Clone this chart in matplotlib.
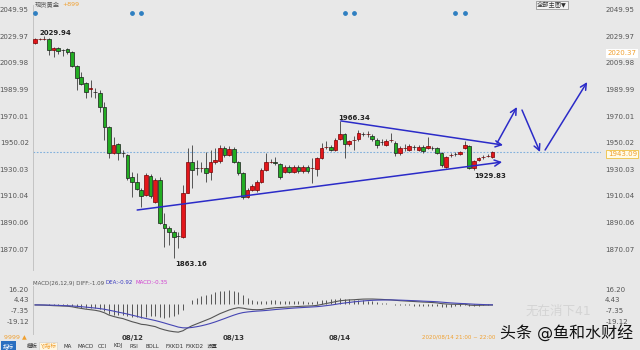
import matplotlib.pyplot as plt
import matplotlib.transforms as mtransforms

plt.rcParams['font.family'] = ['DejaVu Sans', 'Noto Sans CJK SC']

# hourly gold candles (price)
opens = [2024.75, 2027.5, 2027.6, 2027.7, 2019.5, 2021.0, 2019.5, 2020.25, 2018.0, 2007.5,
         1999.25, 1994.75, 1990.25, 1988.2, 1987.25, 1976.75, 1961.75, 1942.25, 1949.0, 1942.5,
         1940.75, 1924.25, 1920.5, 1914.5, 1910.75, 1925.0, 1905.5, 1922.0, 1889.0, 1886.0,
         1883.0, 1880.0, 1879.25, 1912.25, 1935.5, 1931.1, 1931.0, 1931.0, 1928.0, 1935.5,
         1936.25, 1946.0, 1940.75, 1945.25, 1935.5, 1927.25, 1909.25, 1914.5, 1914.5, 1920.5,
         1929.5, 1935.5, 1935.0, 1934.0, 1928.0, 1931.75, 1928.0, 1931.75, 1928.75, 1931.75,
         1931.0, 1930.25, 1938.5, 1946.75, 1946.75, 1944.5, 1952.75, 1956.5, 1949.0, 1952.0,
         1952.75, 1956.5, 1956.4, 1955.0, 1952.0, 1950.5, 1948.25, 1952.0, 1949.75, 1942.25,
         1946.0, 1944.5, 1946.5, 1944.5, 1946.75, 1946.0, 1946.0, 1946.0, 1942.25, 1931.75,
         1940.75, 1941.5, 1941.5, 1946.0, 1947.5, 1931.0, 1937.0, 1939.25, 1940.0, 1939.25]
highs = [2028.5, 2028.2, 2029.94, 2028.5, 2021.75, 2021.75, 2020.25, 2021.0, 2018.75, 2008.25,
         2003.0, 1995.5, 1997.0, 1991.0, 1989.5, 1980.5, 1962.5, 1954.25, 1949.75, 1944.5,
         1941.5, 1928.0, 1927.25, 1916.0, 1927.25, 1926.5, 1923.5, 1924.25, 1897.25, 1887.5,
         1884.5, 1883.0, 1918.25, 1946.0, 1948.25, 1937.0, 1935.5, 1943.0, 1944.5, 1946.0,
         1948.25, 1947.5, 1947.5, 1946.75, 1936.25, 1928.0, 1916.0, 1919.0, 1922.0, 1931.0,
         1942.25, 1937.75, 1939.25, 1935.0, 1933.0, 1933.0, 1933.0, 1933.0, 1933.0, 1933.0,
         1938.5, 1939.5, 1949.75, 1951.25, 1948.0, 1953.5, 1966.34, 1957.25, 1952.0, 1955.0,
         1959.5, 1958.0, 1958.5, 1956.5, 1953.5, 1953.0, 1953.0, 1957.25, 1951.0, 1947.5,
         1949.0, 1949.0, 1948.5, 1948.5, 1948.0, 1954.25, 1947.5, 1947.0, 1943.0, 1940.0,
         1942.5, 1943.0, 1944.0, 1951.25, 1948.25, 1937.0, 1939.5, 1941.0, 1941.5, 1944.0]
lows = [2024.0, 2027.0, 2027.0, 2015.75, 2014.25, 2016.5, 2015.0, 2016.5, 2006.75, 1989.5,
        1993.25, 1983.5, 1984.25, 1983.5, 1973.0, 1952.0, 1938.5, 1941.5, 1937.0, 1939.25,
        1922.0, 1909.25, 1914.5, 1901.75, 1910.0, 1908.5, 1904.75, 1889.0, 1871.75, 1873.25,
        1863.16, 1871.0, 1878.5, 1912.25, 1916.0, 1925.75, 1928.0, 1920.5, 1922.0, 1934.0,
        1934.75, 1939.25, 1940.0, 1934.75, 1925.75, 1907.75, 1908.5, 1913.75, 1913.0, 1919.75,
        1928.75, 1934.5, 1933.5, 1922.75, 1927.0, 1927.0, 1927.0, 1927.5, 1927.5, 1927.5,
        1919.75, 1925.0, 1937.5, 1945.0, 1943.5, 1943.5, 1952.0, 1938.5, 1947.5, 1944.5,
        1951.5, 1955.0, 1954.0, 1951.5, 1946.0, 1948.0, 1947.5, 1950.5, 1940.0, 1941.0,
        1944.0, 1943.5, 1944.5, 1943.5, 1942.5, 1945.0, 1944.5, 1941.5, 1931.75, 1931.0,
        1939.5, 1940.0, 1940.5, 1945.0, 1930.5, 1929.83, 1936.0, 1938.0, 1939.0, 1938.5]
closes = [2027.75, 2027.6, 2027.9, 2019.5, 2021.0, 2018.75, 2019.3, 2018.0, 2007.5, 1998.5,
          1994.0, 1988.0, 1990.75, 1988.0, 1976.75, 1961.75, 1942.25, 1948.25, 1942.25, 1942.25,
          1923.5, 1920.5, 1915.25, 1910.0, 1925.75, 1910.0, 1922.0, 1889.75, 1886.0, 1883.0,
          1879.25, 1879.9, 1912.25, 1935.5, 1929.5, 1931.0, 1931.2, 1927.25, 1935.5, 1937.0,
          1946.0, 1940.75, 1945.25, 1935.5, 1927.25, 1909.25, 1914.5, 1917.5, 1920.5, 1929.5,
          1935.5, 1935.6, 1934.8, 1924.25, 1931.75, 1928.0, 1931.75, 1928.75, 1931.75, 1928.75,
          1931.1, 1938.5, 1946.0, 1946.8, 1944.5, 1952.0, 1956.5, 1949.0, 1951.25, 1952.1,
          1957.25, 1956.4, 1956.5, 1952.75, 1948.25, 1950.4, 1951.25, 1952.1, 1942.25, 1946.0,
          1946.1, 1947.5, 1946.4, 1946.75, 1943.75, 1947.5, 1945.9, 1942.25, 1933.25, 1939.25,
          1940.9, 1941.4, 1943.0, 1948.25, 1931.0, 1936.25, 1938.5, 1939.3, 1940.1, 1943.09]

# MACD(26,12,9) panel
diff = [-1.0, -1.1, -1.2, -1.5, -1.8, -2.0, -2.2, -2.4, -3.0, -4.0,
        -4.8, -5.6, -6.2, -6.8, -7.8, -9.5, -12.0, -13.5, -14.8, -15.8,
        -17.5, -19.2, -20.5, -22.0, -22.5, -23.5, -24.5, -26.5, -28.0, -29.2,
        -30.0, -30.5, -29.0, -26.0, -23.5, -21.5, -19.5, -17.5, -15.5, -13.0,
        -10.5, -8.5, -6.5, -5.0, -4.0, -4.5, -5.5, -6.0, -6.2, -6.0,
        -5.2, -4.6, -4.0, -3.8, -3.5, -3.2, -3.0, -2.7, -2.4, -2.2,
        -2.0, -1.5, -0.5, 0.5, 1.5, 2.5, 3.5, 4.0, 4.4, 4.6,
        5.0, 5.3, 5.4, 5.4, 5.2, 5.0, 4.7, 4.5, 4.0, 3.6,
        3.3, 3.0, 2.7, 2.4, 2.1, 1.9, 1.6, 1.2, 0.4, 0.0,
        -0.2, -0.3, -0.4, -0.2, -1.2, -1.5, -1.4, -1.3, -1.2, -1.09]
dea = [-1.0, -1.0, -1.1, -1.2, -1.3, -1.5, -1.7, -1.9, -2.1, -2.5,
       -2.9, -3.4, -3.9, -4.4, -5.0, -5.7, -6.7, -7.7, -8.8, -9.8,
       -10.9, -12.1, -13.3, -14.6, -15.7, -16.8, -17.9, -19.2, -20.6, -22.1,
       -23.5, -25.0, -25.8, -25.9, -25.4, -24.6, -23.6, -22.4, -21.0, -19.4,
       -17.6, -15.8, -13.9, -12.1, -10.5, -9.3, -8.6, -8.1, -7.7, -7.4,
       -7.0, -6.5, -6.0, -5.6, -5.2, -4.8, -4.4, -4.1, -3.8, -3.5,
       -3.2, -2.9, -2.4, -1.8, -1.2, -0.4, 0.4, 1.1, 1.7, 2.3,
       2.8, 3.3, 3.7, 4.0, 4.2, 4.3, 4.4, 4.4, 4.3, 4.2,
       4.0, 3.8, 3.6, 3.4, 3.1, 2.9, 2.7, 2.4, 2.0, 1.6,
       1.2, 0.9, 0.6, 0.4, 0.1, -0.2, -0.4, -0.6, -0.8, -0.92]
macd_hist = [-0.2, -0.3, -0.4, -0.6, -1.0, -1.0, -1.0, -1.0, -1.8, -3.0,
             -3.8, -4.4, -4.6, -4.8, -5.6, -7.6, -10.6, -11.6, -12.0, -12.0,
             -13.2, -14.2, -14.4, -14.8, -13.6, -13.4, -13.2, -14.6, -14.8, -14.2,
             -13.0, -11.0, -6.4, -0.2, 3.8, 6.2, 8.2, 9.8, 11.0, 12.8,
             14.2, 14.6, 14.8, 14.2, 13.0, 9.6, 6.2, 4.2, 3.0, 2.8,
             3.6, 3.8, 4.0, 3.6, 3.4, 3.2, 2.8, 2.8, 2.8, 2.6,
             2.4, 2.8, 3.8, 4.6, 5.4, 5.8, 6.2, 5.8, 5.4, 4.6,
             4.4, 4.0, 3.4, 2.8, 2.0, 1.4, 0.6, 0.2, -0.6, -1.2,
             -1.4, -1.6, -1.8, -2.0, -2.0, -2.0, -2.2, -2.4, -3.2, -3.2,
             -2.8, -2.4, -2.0, -1.2, -2.6, -2.6, -2.0, -1.4, -0.8, -0.35]

price_ticks = [2049.95, 2029.97, 2009.98, 1989.99, 1970.01, 1950.02, 1930.03, 1910.04, 1890.06, 1870.07]
macd_ticks = [16.20, 4.43, -7.35, -19.12]
day_pos = [21, 43, 66]
day_labels = ['08/12', '08/13', '08/14']
event_pos = [0, 21, 23, 67, 69, 91, 93]
last_price = 1943.09

# trend lines drawn on the chart: (x0, y0, x1, y1) in candle index / price
lower_line = (22.1, 1899.5, 101.1, 1935.5)
upper_line = (66.2, 1966.34, 101.3, 1948.25)
proj_arrows = [(100.0, 1949.75, 104.3, 1976.75),
               (105.4, 1974.5, 109.3, 1943.0),
               (110.4, 1944.5, 119.5, 1995.5)]

bg = '#e8e8e8'
up_c = '#e3161b'
down_c = '#22ad22'
line_c = '#2b2bc8'
tick_c = '#555555'

fig = plt.figure(figsize=(6.4, 3.5), dpi=100, facecolor=bg)
ax = fig.add_axes([33 / 640, 1 - 270 / 350, 568 / 640, 265 / 350], facecolor=bg)
ax2 = fig.add_axes([33 / 640, 1 - 334 / 350, 568 / 640, 48 / 350], facecolor=bg)

n = len(opens)
xs = list(range(n))

# candles
for i in xs:
    o, h, l, c = opens[i], highs[i], lows[i], closes[i]
    col = up_c if c >= o else down_c
    edge = '#7a0000' if c >= o else '#1b1b1b'
    ax.vlines(i, l, h, color='#555555', lw=0.7, zorder=2)
    ax.bar(i, max(abs(c - o), 0.35), bottom=min(o, c), width=0.8,
           color=col, edgecolor=edge, linewidth=0.5, zorder=3)

ax.axhline(last_price, color='#7fb0dd', lw=0.8, ls=(0, (1.5, 1.5)), zorder=1)

# trend lines
for x0, y0, x1, y1 in [lower_line, upper_line] + proj_arrows:
    ax.annotate('', xy=(x1, y1), xytext=(x0, y0),
                arrowprops=dict(arrowstyle='->', color=line_c, lw=1.1,
                                mutation_scale=11, shrinkA=0, shrinkB=0), zorder=4)

# high / low labels
ax.text(4.3, 2032.3, '2029.94', fontsize=5, fontweight='bold', color='#222222', ha='center', va='center')
ax.text(33.8, 1859.0, '1863.16', fontsize=5, fontweight='bold', color='#222222', ha='center', va='center')
ax.text(69.0, 1968.5, '1966.34', fontsize=5, fontweight='bold', color='#222222', ha='center', va='center')
ax.text(98.5, 1925.0, '1929.83', fontsize=5, fontweight='bold', color='#222222', ha='center', va='center')

# event dots on top
trans = mtransforms.blended_transform_factory(ax.transData, ax.transAxes)
ax.scatter(event_pos, [0.97] * len(event_pos), s=6, color='#2f7fc1', transform=trans, zorder=5, clip_on=False)

ax.set_xlim(-0.45, 122.5)
ax.set_ylim(1854.5, 2053.3)
ax.set_yticks(price_ticks)
ax.set_yticklabels([f'{t:.2f}' for t in price_ticks])
ax.tick_params(axis='y', labelleft=True, labelright=True, length=0, labelsize=5, colors=tick_c, pad=3)
ax.set_xticks([])
for s in ['top', 'right', 'bottom']:
    ax.spines[s].set_visible(False)
ax.spines['left'].set_color('#bdbdbd')
ax.spines['left'].set_linewidth(0.6)

# price tags on right axis
rtrans = mtransforms.blended_transform_factory(ax.transAxes, ax.transData)
ax.text(1.012, 2017.0, '2020.37', transform=rtrans, fontsize=5, color='#f0a030', va='center', ha='left',
        bbox=dict(boxstyle='square,pad=0.2', fc='white', ec='none'))
ax.text(1.012, last_price - 1.5, '1943.09', transform=rtrans, fontsize=5, color='#f0a030', va='center', ha='left',
        bbox=dict(boxstyle='square,pad=0.2', fc='#fffbe8', ec='#f0c040', lw=0.6))

# title and toolbar text on top
fig.text(35 / 640, 1 - 5 / 350, '现货黄金', fontsize=4.5, color='#555555', va='center', ha='left')
fig.text(62 / 640, 1 - 5 / 350, '+899', fontsize=4.5, color='#f0a030', va='center', ha='left')
fig.text(537 / 640, 1 - 5 / 350, '全部主图▼', fontsize=4.5, color='#333333', va='center', ha='left',
         bbox=dict(boxstyle='square,pad=0.15', fc='#f4f4f4', ec='#888888', lw=0.5))

# MACD panel
ax2.vlines(xs, 0, macd_hist, color='#555555', lw=0.7)
ax2.plot(xs, diff, color='#555555', lw=0.8)
ax2.plot(xs, dea, color='#4646b4', lw=0.8)
ax2.set_xlim(ax.get_xlim())
ax2.set_ylim(-32.5, 19.5)
ax2.set_yticks(macd_ticks)
ax2.set_yticklabels([f'{t:.2f}' for t in macd_ticks])
ax2.tick_params(axis='y', labelleft=True, labelright=True, length=0, labelsize=5, colors=tick_c, pad=3)
ax2.set_xticks(day_pos)
ax2.set_xticklabels(day_labels)
ax2.tick_params(axis='x', length=0, labelsize=5, colors='#333333', pad=1)
for lab in ax2.get_xticklabels():
    lab.set_fontweight('bold')
for s in ['top', 'right', 'bottom']:
    ax2.spines[s].set_visible(False)
ax2.spines['left'].set_color('#bdbdbd')
ax2.spines['left'].set_linewidth(0.6)

fig.text(33 / 640, 1 - 283 / 350, 'MACD(26,12,9) DIFF:-1.09', fontsize=4, color='#555555', va='center')
fig.text(106 / 640, 1 - 283 / 350, 'DEA:-0.92', fontsize=4, color='#3a3ac0', va='center')
fig.text(136 / 640, 1 - 283 / 350, 'MACD:-0.35', fontsize=4, color='#d040d0', va='center')
fig.text(4 / 640, 1 - 337 / 350, '9999 ▲', fontsize=4.5, color='#f0a030', va='center')
fig.text(422 / 640, 1 - 337 / 350, '2020/08/14 21:00 ~ 22:00', fontsize=4, color='#f0a030', va='center')

# bottom tab bar
tabs = ['指标', '模板', 'YJ指标', 'MA', 'MACD', 'CCI', 'KDJ', 'RSI', 'BOLL', 'FXKD1', 'FXKD2', '设置']
tab_x = [3, 27, 40, 64, 78, 98, 113, 130, 146, 165, 186, 207]
for t, x in zip(tabs, tab_x):
    if t == '指标':
        fig.text(x / 640, 1 - 346 / 350, t, fontsize=4, color='white', va='center',
                 bbox=dict(boxstyle='square,pad=0.3', fc='#2a6fc0', ec='none'))
    elif t == 'YJ指标':
        fig.text(x / 640, 1 - 346 / 350, t, fontsize=4, color='#f0a030', va='center',
                 bbox=dict(boxstyle='square,pad=0.25', fc='#fff6e0', ec='#cccccc', lw=0.4))
    else:
        fig.text(x / 640, 1 - 346 / 350, t, fontsize=4, color='#333333', va='center')

# watermarks
fig.text(558 / 640, 1 - 311 / 350, '无在消下41', fontsize=9, color='#d4d4d4', va='center', ha='center', zorder=0)
fig.text(633 / 640, 1 - 333 / 350, '头条 @鱼和水财经', fontsize=11.5, color='#111111', va='center', ha='right')

fig.savefig('out.png', dpi=100, facecolor=bg)
